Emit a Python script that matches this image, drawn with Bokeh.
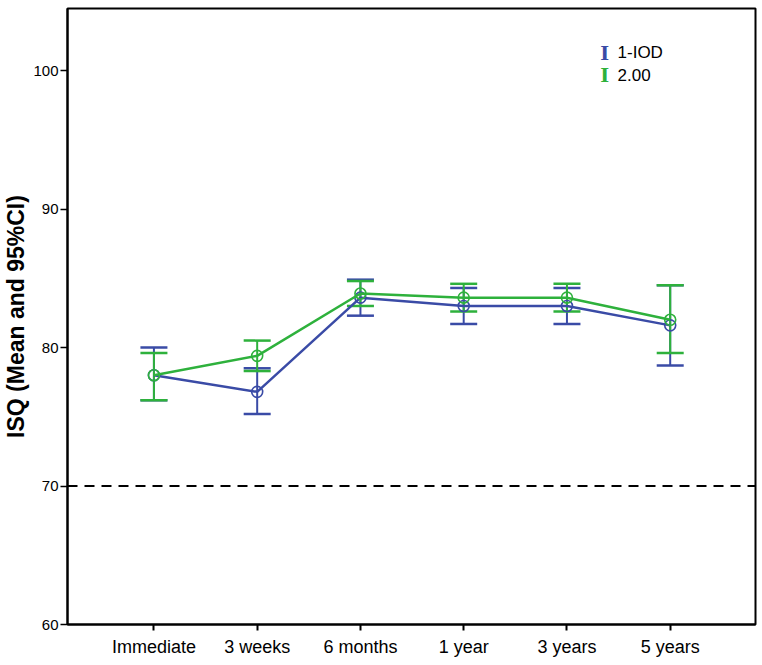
from bokeh.plotting import figure
from bokeh.models import (Whisker, TeeHead, ColumnDataSource, FixedTicker, Span,
                          Label, Range1d)
from bokeh.embed import file_html
from bokeh.resources import INLINE

categories = ["Immediate", "3 weeks", "6 months", "1 year", "3 years", "5 years"]
series_names = ["1-IOD", "2.00"]
iod1_mean = [78.0, 76.8, 83.6, 83.0, 83.0, 81.6]
iod1_lower = [76.2, 75.2, 82.3, 81.7, 81.7, 78.7]
iod1_upper = [80.0, 78.5, 84.9, 84.3, 84.3, 84.5]
iod2_mean = [78.0, 79.4, 83.9, 83.6, 83.6, 82.0]
iod2_lower = [76.2, 78.3, 83.0, 82.6, 82.6, 79.6]
iod2_upper = [79.6, 80.5, 84.8, 84.6, 84.6, 84.5]
y_ticks = [60, 70, 80, 90, 100]
threshold = 70

BLUE = "#3a4ba6"
GREEN = "#2eb13c"
FONT = "Liberation Sans"

x = list(range(len(categories)))

p = figure(frame_width=688, frame_height=616, output_backend="svg",
           toolbar_location=None,
           x_range=Range1d(-0.837, 5.826), y_range=Range1d(60, 104.48),
           min_border_left=58, min_border_right=2, min_border_top=8,
           min_border_bottom=30)
p.xgrid.visible = False
p.ygrid.visible = False
p.outline_line_color = "black"
p.outline_line_width = 2
p.outline_line_alpha = 1

series = [
    (iod1_mean, iod1_lower, iod1_upper, BLUE),
    (iod2_mean, iod2_lower, iod2_upper, GREEN),
]

for mean, lo, hi, col in series:
    src = ColumnDataSource(dict(x=x, mean=mean, lower=lo, upper=hi))
    w = Whisker(source=src, base="x", upper="upper", lower="lower",
                line_color=col, line_width=2,
                upper_head=TeeHead(size=27, line_color=col, line_width=2.5),
                lower_head=TeeHead(size=27, line_color=col, line_width=2.5))
    p.add_layout(w)

for mean, lo, hi, col in series:
    src = ColumnDataSource(dict(x=x, mean=mean))
    p.line("x", "mean", source=src, line_color=col, line_width=2.5)
    p.scatter("x", "mean", source=src, marker="circle", size=11,
              fill_color=None, line_color=col, line_width=1.6)

p.add_layout(Span(location=threshold, dimension="width", line_color="black",
                  line_width=2, line_dash="10 7"))

# axes
p.xaxis.ticker = FixedTicker(ticks=x)
p.xaxis.major_label_overrides = {i: c for i, c in zip(x, categories)}
p.xaxis.major_label_text_font = FONT
p.xaxis.major_label_text_font_size = "18px"
p.xaxis.major_label_text_color = "black"
p.xaxis.major_tick_out = 6
p.xaxis.major_tick_in = 0
p.xaxis.minor_tick_line_color = None
p.xaxis.major_label_standoff = 6
p.xaxis.axis_line_width = 2
p.xaxis.major_tick_line_width = 2

p.yaxis.ticker = FixedTicker(ticks=y_ticks)
p.yaxis.major_label_text_font = FONT
p.yaxis.major_label_text_font_size = "15px"
p.yaxis.major_label_text_color = "black"
p.yaxis.major_tick_out = 7
p.yaxis.major_tick_in = 0
p.yaxis.minor_tick_line_color = None
p.yaxis.major_label_standoff = 2
p.yaxis.axis_line_width = 2
p.yaxis.major_tick_line_width = 1.5
p.yaxis.axis_label = "ISQ (Mean and 95%CI)"
p.yaxis.axis_label_text_font = FONT
p.yaxis.axis_label_text_font_style = "bold"
p.yaxis.axis_label_text_font_size = "23px"
p.yaxis.axis_label_text_color = "black"
p.yaxis.axis_label_standoff = 1

# legend (manual, I-beam icons)
legend_x_icon = 4.366
legend_x_text = 4.49
legend_y = [101.3, 99.7]
for name, col, ly in zip(series_names, [BLUE, GREEN], legend_y):
    p.add_layout(Label(x=legend_x_icon, y=ly, text="I", text_color=col,
                       text_font="DejaVu Serif", text_font_size="19px",
                       text_font_style="bold",
                       text_align="center", text_baseline="middle"))
    p.add_layout(Label(x=legend_x_text, y=ly, text=name, text_color="black",
                       text_font=FONT, text_font_size="17px",
                       text_align="left", text_baseline="middle"))

open("out.html", "w").write(file_html(p, INLINE))
